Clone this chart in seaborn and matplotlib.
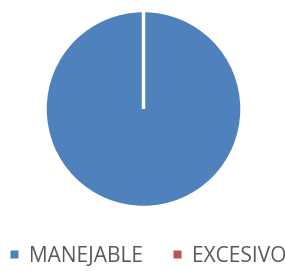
import matplotlib
matplotlib.use("Agg")
import matplotlib.pyplot as plt
import seaborn as sns
from matplotlib.lines import Line2D

labels = ["MANEJABLE", "EXCESIVO"]
values = [100, 0]
colors = ["#4F81BD", "#C0504D"]

sns.set_theme(style="white")
plt.rcParams["font.family"] = ["Open Sans", "DejaVu Sans"]

fig = plt.figure(figsize=(2.85, 2.71), dpi=100)
ax = fig.add_axes([45 / 285, 1 - 208 / 271, 197 / 285, 198 / 271])
ax.pie(values, colors=colors, startangle=90, counterclock=False,
       wedgeprops=dict(edgecolor="white", linewidth=2.5))
ax.set_xlim(-1, 1)
ax.set_ylim(-1, 1)
ax.set_aspect("equal")
ax.axis("off")

# square legend markers like the original
handles = [Line2D([], [], marker="s", linestyle="none", markersize=6,
                  markerfacecolor=c, markeredgecolor="none") for c in colors]
fig.legend(handles, labels, loc="center", bbox_to_anchor=(148 / 285, 1 - 256 / 271),
           ncol=2, frameon=False, fontsize=15, labelcolor="#595959",
           handlelength=0.4, handletextpad=0.5, columnspacing=1.45)

fig.savefig("out.png", dpi=100)
